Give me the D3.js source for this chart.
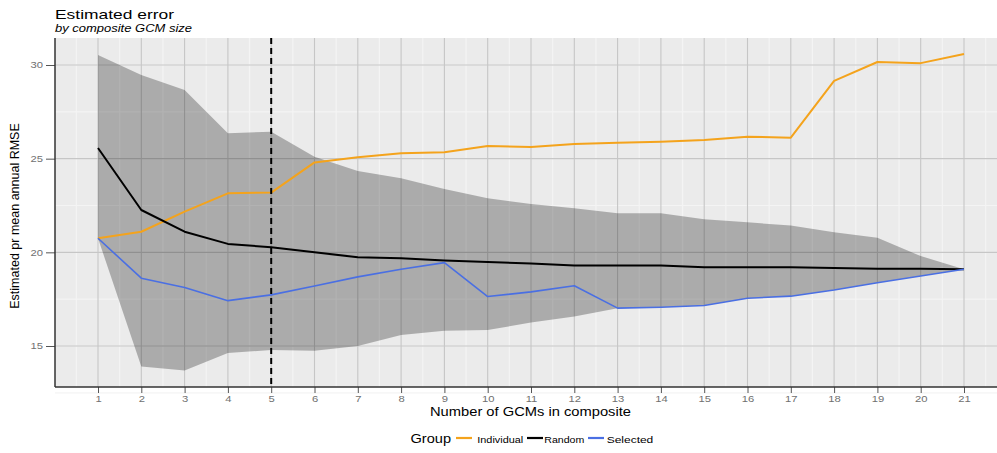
<!DOCTYPE html>
<html>
<head>
<meta charset="utf-8">
<script src="https://cdn.jsdelivr.net/npm/d3@7"></script>
<style>
  body { margin: 0; background: #fff; }
  svg { display: block; font-family: "Liberation Sans", Arial, sans-serif; }
</style>
</head>
<body>
<svg id="chart" width="997" height="453"></svg>
<script>
// composite sizes
var sizes = d3.range(1, 22)

// series
var individual = [20.75, 21.1, 22.17, 23.15, 23.19, 24.8, 25.07, 25.29, 25.34, 25.68, 25.62,
                  25.78, 25.85, 25.9, 26.0, 26.17, 26.12, 29.15, 30.16, 30.1, 30.59]
var random = [25.57, 22.26, 21.1, 20.45, 20.27, 20.0, 19.74, 19.68, 19.56, 19.49, 19.4,
              19.3, 19.3, 19.3, 19.2, 19.2, 19.2, 19.17, 19.13, 19.13, 19.1]
var selected = [20.75, 18.62, 18.12, 17.42, 17.73, 18.2, 18.69, 19.1, 19.45, 17.64, 17.89,
                18.22, 17.02, 17.07, 17.16, 17.55, 17.66, 17.99, 18.38, 18.74, 19.1]
var bandHigh = [30.53, 29.47, 28.67, 26.36, 26.44, 25.1, 24.34, 23.95, 23.38, 22.89, 22.58,
                22.35, 22.09, 22.08, 21.77, 21.6, 21.43, 21.07, 20.78, 19.8, 19.1]
var bandLow = [20.75, 13.9, 13.69, 14.62, 14.79, 14.74, 15.0, 15.59, 15.82, 15.86, 16.25,
               16.57, 17.02, 17.07, 17.16, 17.55, 17.66, 17.99, 18.38, 18.74, 19.1]

var yTicks = [15, 20, 25, 30]
var groups = ["Individual", "Random", "Selected"]
var groupColors = ["#f4a31c", "#000000", "#4a6fe3"]
var cutoff = 5

var svg = d3.select("#chart")
// the picture is a bit stretched sideways, so text gets stretched too
var stretch = 1.25
var pLeft = 55, pRight = 997, pTop = 38, pBottom = 387

var x = d3.scaleLinear().domain([1, 21]).range([98, 964])
var y = d3.scaleLinear().domain([15, 30]).range([346, 65])

// panel
svg.append("rect")
    .attr("x", pLeft).attr("y", pTop)
    .attr("width", pRight - pLeft).attr("height", pBottom - pTop)
    .attr("fill", "#ebebeb")

var grid = svg.append("g")

// minor grid
d3.range(0.5, 22, 1).forEach(function(v) {
    grid.append("line")
        .attr("x1", x(v)).attr("x2", x(v))
        .attr("y1", pTop).attr("y2", pBottom)
        .attr("stroke", "#f4f4f4").attr("stroke-width", 1.2)
})
d3.range(12.5, 32, 2.5).forEach(function(v) {
    grid.append("line")
        .attr("x1", pLeft).attr("x2", pRight)
        .attr("y1", y(v)).attr("y2", y(v))
        .attr("stroke", "#f4f4f4").attr("stroke-width", 1.2)
})

// major grid
sizes.forEach(function(v) {
    grid.append("line")
        .attr("x1", x(v)).attr("x2", x(v))
        .attr("y1", pTop).attr("y2", pBottom)
        .attr("stroke", "#c6c6c6").attr("stroke-width", 1.1)
})
yTicks.forEach(function(v) {
    grid.append("line")
        .attr("x1", pLeft).attr("x2", pRight)
        .attr("y1", y(v)).attr("y2", y(v))
        .attr("stroke", "#c6c6c6").attr("stroke-width", 1.1)
})

// ribbon
var area = d3.area()
    .x(function(d, i) { return x(sizes[i]) })
    .y0(function(d, i) { return y(bandLow[i]) })
    .y1(function(d, i) { return y(bandHigh[i]) })

svg.append("path")
    .datum(bandHigh)
    .attr("d", area)
    .attr("fill", "#000")
    .attr("fill-opacity", 0.27)

// lines
var line = d3.line()
    .x(function(d, i) { return x(sizes[i]) })
    .y(function(d) { return y(d) })

var series = [individual, random, selected]
var widths = [2, 2, 1.6]
series.forEach(function(s, k) {
    svg.append("path")
        .datum(s)
        .attr("d", line)
        .attr("fill", "none")
        .attr("stroke", groupColors[k])
        .attr("stroke-width", widths[k])
        .attr("stroke-linejoin", "round")
})

// cutoff
svg.append("line")
    .attr("x1", x(cutoff)).attr("x2", x(cutoff))
    .attr("y1", pTop).attr("y2", pBottom)
    .attr("stroke", "#000").attr("stroke-width", 2)
    .attr("stroke-dasharray", "6,4")

// axes
var xAxis = svg.append("g")
    .attr("transform", "translate(0," + pBottom + ")")
    .call(d3.axisBottom(x).tickValues(sizes).tickSize(6).tickPadding(3).tickSizeOuter(0))
xAxis.select(".domain").remove()
xAxis.append("line").attr("x1", pLeft).attr("x2", pRight).attr("stroke", "#333").attr("stroke-width", 1.5)

var yAxis = svg.append("g")
    .attr("transform", "translate(" + pLeft + ",0)")
    .call(d3.axisLeft(y).tickValues(yTicks).tickSize(9).tickPadding(3))
yAxis.select(".domain").remove()
yAxis.append("line").attr("y1", pTop).attr("y2", pBottom).attr("stroke", "#333").attr("stroke-width", 1.5)

svg.selectAll(".tick line").attr("stroke", "#555")
svg.selectAll(".tick text")
    .attr("fill", "#707070")
    .style("font-size", "9px")
    .style("font-family", "Liberation Sans, Arial, sans-serif")
    .attr("transform", function() {
        var ax = +d3.select(this).attr("x") || 0
        return "translate(" + ax + ",0) scale(" + stretch + ",1) translate(" + (-ax) + ",0)"
    })

// titles
svg.append("text")
    .attr("x", 55).attr("y", 19)
    .attr("textLength", 119).attr("lengthAdjust", "spacingAndGlyphs")
    .style("font-size", "13.5px")
    .text("Estimated error")
svg.append("text")
    .attr("x", 55).attr("y", 31.5)
    .attr("textLength", 137).attr("lengthAdjust", "spacingAndGlyphs")
    .style("font-size", "10.5px")
    .style("font-style", "italic")
    .text("by composite GCM size")

svg.append("text")
    .attr("x", 430).attr("y", 416)
    .attr("textLength", 201).attr("lengthAdjust", "spacingAndGlyphs")
    .style("font-size", "13px")
    .text("Number of GCMs in composite")

svg.append("text")
    .attr("transform", "translate(19,216) rotate(-90)")
    .attr("text-anchor", "middle")
    .style("font-size", "12.5px")
    .text("Estimated pr mean annual RMSE")

// legend
var legend = svg.append("g").attr("transform", "translate(0,443)")
legend.append("text")
    .attr("x", 410.5).attr("y", 0)
    .attr("textLength", 40.5).attr("lengthAdjust", "spacingAndGlyphs")
    .style("font-size", "12.5px")
    .text("Group")
var keyX = [456, 527, 588]
var labelX = [477.3, 544.3, 606.7]
var labelW = [46, 40, 46.6]
groups.forEach(function(g, k) {
    legend.append("line")
        .attr("x1", keyX[k]).attr("x2", keyX[k] + 16).attr("y1", -5).attr("y2", -5)
        .attr("stroke", groupColors[k]).attr("stroke-width", 2.2)
    legend.append("text")
        .attr("x", labelX[k]).attr("y", 0)
        .attr("textLength", labelW[k]).attr("lengthAdjust", "spacingAndGlyphs")
        .style("font-size", "9px")
        .text(g)
})
</script>
</body>
</html>
